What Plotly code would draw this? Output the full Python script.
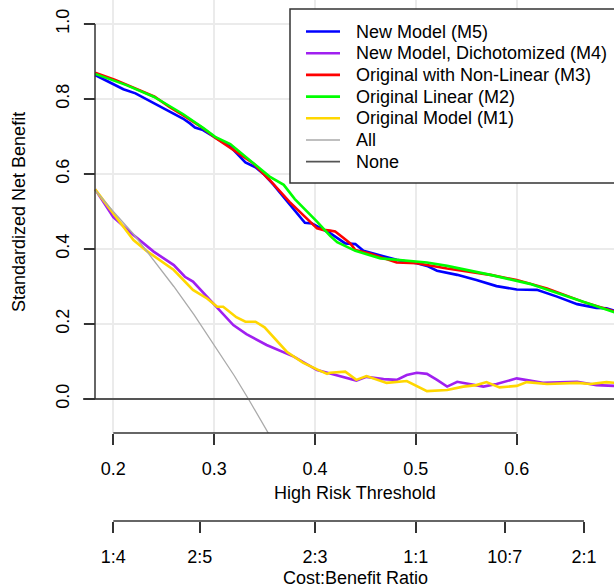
import plotly.graph_objects as go

# ---------------- data ----------------
m5_t = [0.182, 0.200, 0.210, 0.222, 0.241, 0.256, 0.269, 0.276, 0.281, 0.289, 0.301, 0.316, 0.331, 0.341,
        0.349, 0.359, 0.370, 0.390, 0.397, 0.408, 0.415, 0.430, 0.440, 0.448, 0.481, 0.501, 0.511, 0.521,
        0.541, 0.560, 0.580, 0.600, 0.620, 0.640, 0.660, 0.679, 0.689, 0.697]
m5_v = [0.864, 0.840, 0.826, 0.815, 0.787, 0.766, 0.748, 0.735, 0.724, 0.717, 0.698, 0.673, 0.631, 0.618,
        0.600, 0.571, 0.535, 0.470, 0.468, 0.451, 0.442, 0.415, 0.413, 0.395, 0.371, 0.362, 0.355, 0.342,
        0.331, 0.317, 0.301, 0.292, 0.291, 0.273, 0.253, 0.243, 0.242, 0.235]

m4_t = [0.182, 0.200, 0.220, 0.240, 0.260, 0.271, 0.279, 0.299, 0.319, 0.332, 0.352, 0.379, 0.402, 0.415,
        0.428, 0.441, 0.451, 0.468, 0.481, 0.491, 0.501, 0.511, 0.521, 0.531, 0.541, 0.554, 0.567, 0.580,
        0.600, 0.613, 0.626, 0.660, 0.679, 0.697]
m4_v = [0.559, 0.485, 0.437, 0.393, 0.357, 0.326, 0.313, 0.255, 0.197, 0.173, 0.144, 0.113, 0.077, 0.068,
        0.058, 0.049, 0.059, 0.053, 0.051, 0.064, 0.070, 0.067, 0.051, 0.033, 0.046, 0.040, 0.033, 0.040,
        0.055, 0.049, 0.043, 0.046, 0.037, 0.035]

m3_t = [0.182, 0.202, 0.241, 0.256, 0.269, 0.289, 0.301, 0.316, 0.339, 0.355, 0.375, 0.402, 0.408, 0.415,
        0.420, 0.428, 0.435, 0.440, 0.455, 0.481, 0.501, 0.531, 0.574, 0.600, 0.630, 0.666, 0.697]
m3_v = [0.870, 0.851, 0.806, 0.778, 0.757, 0.722, 0.697, 0.669, 0.628, 0.584, 0.525, 0.455, 0.451, 0.449,
        0.447, 0.430, 0.415, 0.397, 0.387, 0.364, 0.362, 0.348, 0.331, 0.317, 0.295, 0.259, 0.233]

m2_t = [0.182, 0.202, 0.213, 0.240, 0.269, 0.289, 0.301, 0.316, 0.339, 0.355, 0.369, 0.380, 0.402, 0.412,
        0.415, 0.422, 0.440, 0.465, 0.511, 0.531, 0.574, 0.613, 0.646, 0.679, 0.697]
m2_v = [0.867, 0.849, 0.837, 0.806, 0.760, 0.723, 0.699, 0.680, 0.630, 0.593, 0.571, 0.533, 0.473, 0.442,
        0.435, 0.418, 0.395, 0.375, 0.364, 0.355, 0.331, 0.307, 0.277, 0.246, 0.231]

m1_t = [0.182, 0.200, 0.220, 0.233, 0.260, 0.279, 0.293, 0.303, 0.309, 0.322, 0.331, 0.341, 0.350, 0.372,
        0.388, 0.402, 0.412, 0.415, 0.430, 0.441, 0.451, 0.471, 0.491, 0.511, 0.531, 0.547, 0.560, 0.570,
        0.583, 0.600, 0.610, 0.630, 0.660, 0.673, 0.689, 0.697]
m1_v = [0.559, 0.495, 0.424, 0.395, 0.344, 0.291, 0.268, 0.246, 0.246, 0.218, 0.206, 0.206, 0.191, 0.126,
        0.097, 0.079, 0.067, 0.070, 0.073, 0.051, 0.061, 0.043, 0.048, 0.021, 0.024, 0.033, 0.037, 0.045,
        0.031, 0.035, 0.045, 0.040, 0.043, 0.040, 0.045, 0.043]

all_t = [0.182, 0.200, 0.220, 0.240, 0.260, 0.280, 0.300, 0.320, 0.334, 0.345, 0.355]
all_v = [0.557, 0.500, 0.440, 0.370, 0.300, 0.225, 0.145, 0.062, 0.000, -0.050, -0.097]

none_t = [0.170, 0.697]
none_v = [0.0, 0.0]

thr_ticks = [0.2, 0.3, 0.4, 0.5, 0.6]
thr_labels = ["0.2", "0.3", "0.4", "0.5", "0.6"]
cb_ticks = [0.2, 0.2857, 0.4, 0.5, 0.5882, 0.6667]
cb_labels = ["1:4", "2:5", "2:3", "1:1", "10:7", "2:1"]
y_ticks = [0.0, 0.2, 0.4, 0.6, 0.8, 1.0]
y_labels = ["0.0", "0.2", "0.4", "0.6", "0.8", "1.0"]

series = [
    ("New Model (M5)", m5_t, m5_v, "#0000FF", 2.6),
    ("New Model, Dichotomized (M4)", m4_t, m4_v, "#A020F0", 2.6),
    ("Original with Non-Linear (M3)", m3_t, m3_v, "#FF0000", 2.6),
    ("Original Linear (M2)", m2_t, m2_v, "#00FF00", 2.6),
    ("Original Model (M1)", m1_t, m1_v, "#FFD700", 2.6),
    ("All", all_t, all_v, "#AAAAAA", 1.3),
    ("None", none_t, none_v, "#555555", 1.8),
]

# ---------------- layout helpers (pixel -> paper) ----------------
W, H, ML = 614, 588, 83
def px_x(p):
    return (p - ML) / (W - ML)
def px_y(p):
    return (H - p) / H

FONT = "Liberation Sans, Arial, sans-serif"
AX = "#333333"

fig = go.Figure()
for name, t, v, col, w in series:
    fig.add_trace(go.Scatter(x=t, y=v, mode="lines", name=name,
                             line=dict(color=col, width=w), showlegend=False,
                             hoverinfo="skip"))
# invisible trace to carry the second axis
fig.add_trace(go.Scatter(x=[cb_ticks[0]], y=[0], xaxis="x2", mode="markers",
                         marker=dict(opacity=0), showlegend=False, hoverinfo="skip"))

xr = [0.16996, 0.69648]
yr = [-0.0907, 1.064]

fig.update_layout(
    width=W, height=H,
    margin=dict(l=ML, r=0, t=0, b=0),
    paper_bgcolor="white", plot_bgcolor="white",
    font=dict(family=FONT, size=18, color="black"),
    xaxis=dict(range=xr, tickvals=thr_ticks, ticktext=thr_labels,
               ticks="outside", ticklen=11, tickwidth=1.5, tickcolor=AX,
               showline=False, zeroline=False, showgrid=True,
               gridcolor="#EBEBEB", gridwidth=1.5, automargin=False,
               ticklabelstandoff=8, tickfont=dict(size=18)),
    xaxis2=dict(range=xr, overlaying="x", anchor="free", position=px_y(521), side="bottom",
                tickvals=cb_ticks, ticktext=cb_labels,
                ticks="outside", ticklen=11, tickwidth=1.5, tickcolor=AX,
                showline=False, zeroline=False, showgrid=False, automargin=False,
                ticklabelstandoff=8, tickfont=dict(size=18)),
    yaxis=dict(range=yr, domain=[px_y(433), 1], anchor="free", position=px_x(95),
               tickvals=y_ticks, ticktext=y_labels, tickangle=-90,
               ticks="outside", ticklen=11, tickwidth=1.5, tickcolor=AX,
               showline=False, zeroline=False, showgrid=True,
               gridcolor="#EBEBEB", gridwidth=1.5, automargin=False,
               ticklabelstandoff=8, tickfont=dict(size=18)),
)

shapes = [
    # y axis line (from first to last tick)
    dict(type="line", xref="paper", yref="y", x0=px_x(95), x1=px_x(95), y0=0, y1=1,
         line=dict(color=AX, width=1.5)),
    # threshold axis line
    dict(type="line", xref="x", yref="paper", x0=thr_ticks[0], x1=thr_ticks[-1],
         y0=px_y(433), y1=px_y(433), line=dict(color=AX, width=1.5)),
    # cost:benefit axis line
    dict(type="line", xref="x", yref="paper", x0=cb_ticks[0], x1=cb_ticks[-1],
         y0=px_y(521), y1=px_y(521), line=dict(color=AX, width=1.5)),
    # legend box
    dict(type="rect", xref="paper", yref="paper", x0=px_x(290), x1=px_x(630),
         y0=px_y(183), y1=px_y(9), fillcolor="white", line=dict(color=AX, width=1.5),
         layer="above"),
]
annotations = [
    dict(text="High Risk Threshold", xref="paper", yref="paper", x=px_x(355), y=px_y(493),
         showarrow=False, xanchor="center", yanchor="middle", font=dict(size=18)),
    dict(text="Cost:Benefit Ratio", xref="paper", yref="paper", x=px_x(355), y=px_y(578),
         showarrow=False, xanchor="center", yanchor="middle", font=dict(size=18)),
    dict(text="Standardized Net Benefit", xref="paper", yref="paper", x=px_x(19), y=px_y(212),
         showarrow=False, xanchor="center", yanchor="middle", textangle=-90, font=dict(size=18)),
]
for i, (name, t, v, col, w) in enumerate(series):
    yy = 31.5 + i * 21.7
    shapes.append(dict(type="line", xref="paper", yref="paper", x0=px_x(306), x1=px_x(340),
                       y0=px_y(yy), y1=px_y(yy), line=dict(color=col, width=w), layer="above"))
    annotations.append(dict(text=name, xref="paper", yref="paper", x=px_x(354), y=px_y(yy),
                            showarrow=False, xanchor="left", yanchor="middle",
                            font=dict(size=18, color="black")))

fig.update_layout(shapes=shapes, annotations=annotations)
fig.write_html("out.html", config={"displayModeBar": False},
               post_script="document.body.style.margin='0';document.body.style.overflow='hidden';")
